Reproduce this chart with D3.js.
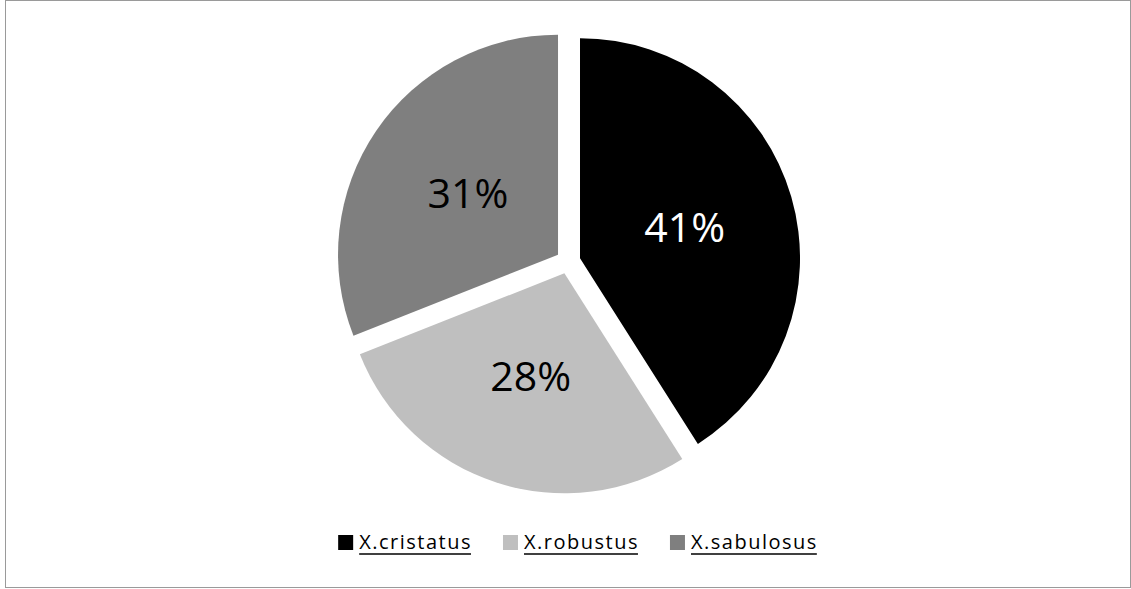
<!DOCTYPE html>
<html>
<head>
<meta charset="utf-8">
<script src="https://cdn.jsdelivr.net/npm/d3@7/dist/d3.min.js"></script>
<style>
  html, body { margin: 0; padding: 0; background: #fff; }
  svg { display: block; }
</style>
</head>
<body>
<svg id="chart" width="1131" height="589"></svg>
<script>
// Species shares (percent)
const species = ["X.cristatus", "X.robustus", "X.sabulosus"];
const shares = [41, 28, 31];
const sliceColors = ["#000000", "#bfbfbf", "#7f7f7f"];
const labelColors = ["#ffffff", "#000000", "#000000"];

const W = 1131, H = 589;
const svg = d3.select("#chart");
const font = "'Open Sans', 'Liberation Sans', sans-serif";

// Chart frame
svg.append("rect")
  .attr("x", 5.5).attr("y", 0.5)
  .attr("width", 1125).attr("height", 587)
  .attr("fill", "#fff").attr("stroke", "#9a9a9a").attr("stroke-width", 1);

const cx = 568.2, cy = 261.6, R = 220, explode = 12.3;

const pie = d3.pie().sort(null).value(d => d.v);
const data = pie(species.map((s, i) => ({ s, v: shares[i], i })));
const arc = d3.arc().innerRadius(0).outerRadius(R);

const g = svg.append("g").attr("transform", `translate(${cx},${cy})`);

const slices = g.selectAll("g.slice").data(data).enter().append("g")
  .attr("class", "slice")
  .attr("transform", d => {
    const a = (d.startAngle + d.endAngle) / 2;
    return `translate(${explode * Math.sin(a)},${-explode * Math.cos(a)})`;
  });

slices.append("path")
  .attr("d", arc)
  .attr("fill", d => sliceColors[d.data.i]);

// Percentage labels inside each slice
const labelR = 109, capHalf = 14.5;
slices.append("text")
  .attr("x", d => labelR * Math.sin((d.startAngle + d.endAngle) / 2))
  .attr("y", d => -labelR * Math.cos((d.startAngle + d.endAngle) / 2) + capHalf)
  .attr("text-anchor", "middle")
  .attr("font-family", font)
  .attr("font-size", 41)
  .attr("fill", d => labelColors[d.data.i])
  .text(d => d.data.v + "%");

// Legend
const sw = 15, textOff = 21, gap = 31, legendCenter = 578;
const legend = svg.append("g");
const items = legend.selectAll("g").data(species).enter().append("g");
items.append("rect")
  .attr("width", sw).attr("height", sw)
  .attr("y", -sw + 1)
  .attr("fill", (d, i) => sliceColors[i]);
const labels = items.append("text")
  .attr("x", textOff)
  .attr("font-family", font)
  .attr("font-size", 20)
  .attr("letter-spacing", 1.5)
  .attr("fill", "#000")
  .text(d => d);

// Place items side by side around the legend centre
const widths = [];
labels.each(function () { widths.push(textOff + this.getComputedTextLength()); });
const total = d3.sum(widths) + gap * (widths.length - 1);
let x0 = legendCenter - total / 2;
items.each(function (d, i) {
  d3.select(this).attr("transform", `translate(${x0},549)`);
  // underline under the label text
  d3.select(this).append("line")
    .attr("x1", textOff).attr("x2", widths[i] - 1)
    .attr("y1", 5).attr("y2", 5)
    .attr("stroke", "#000").attr("stroke-width", 1.5);
  x0 += widths[i] + gap;
});
</script>
</body>
</html>
